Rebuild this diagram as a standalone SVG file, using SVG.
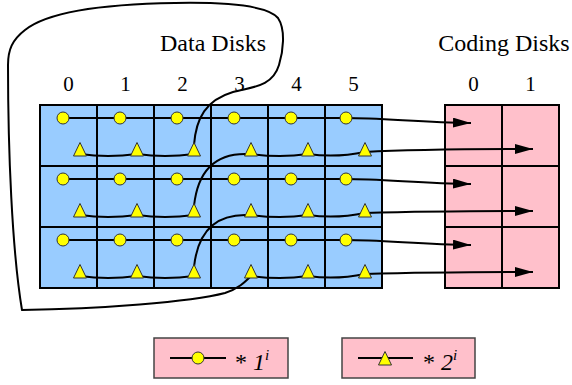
<svg xmlns="http://www.w3.org/2000/svg" width="572" height="385" viewBox="0 0 572 385">
  <defs>
    <style>
      .data { fill: #99ccff; stroke: #000; stroke-width: 2; }
      .code { fill: #ffc0cb; stroke: #000; stroke-width: 2; }
      .legend-box { fill: #ffc0cb; stroke: #444; stroke-width: 1.5; }
      .title { font-family: "Liberation Serif", "Times New Roman", serif; font-size: 24px; fill: #000; text-anchor: middle; }
      .idx { font-family: "Liberation Serif", "Times New Roman", serif; font-size: 21px; fill: #000; text-anchor: middle; }
      .leg { font-family: "Liberation Serif", "Times New Roman", serif; font-size: 24px; fill: #000; }
      .wire { fill: none; stroke: #000; stroke-width: 2; stroke-linecap: round; stroke-linejoin: round; }
      .arrow { fill: none; stroke: #000; stroke-width: 2; marker-end: url(#head); }
      .dot { fill: #ffff00; stroke: #333; stroke-width: 1; }
      .tri { fill: #ffff00; stroke: #333; stroke-width: 1; stroke-linejoin: miter; }
    </style>
    <marker id="head" markerUnits="userSpaceOnUse" markerWidth="18" markerHeight="10" refX="18" refY="5" orient="auto">
      <path d="M0,0 L18,5 L0,10 Z" fill="#000"/>
    </marker>
    <circle id="xo" r="6" class="dot"/>
    <path id="tr" d="M0,-6.5 L6.5,7 L-6.5,7 Z" class="tri"/>
  </defs>

  <!-- headings -->
  <text class="title" x="213" y="51">Data Disks</text>
  <text class="title" x="504" y="51">Coding Disks</text>
  <g id="data-labels">
    <text class="idx" x="68.5" y="91">0</text>
    <text class="idx" x="125.5" y="91">1</text>
    <text class="idx" x="182.5" y="91">2</text>
    <text class="idx" x="239.5" y="91">3</text>
    <text class="idx" x="296.5" y="91">4</text>
    <text class="idx" x="353.5" y="91">5</text>
  </g>
  <g id="coding-labels">
    <text class="idx" x="473.5" y="91">0</text>
    <text class="idx" x="530.5" y="91">1</text>
  </g>

  <!-- data disks: 6 columns x 3 rows -->
  <g id="data-disks">
    <rect class="data" x="40" y="105" width="342" height="183"/>
    <path d="M97,105V288M154,105V288M211,105V288M268,105V288M325,105V288M40,166H382M40,227H382" fill="none" stroke="#000" stroke-width="2"/>
  </g>

  <!-- coding disks: 2 columns x 3 rows -->
  <g id="coding-disks">
    <rect class="code" x="445" y="105" width="114" height="183"/>
    <path d="M502,105V288M445,166H559M445,227H559" fill="none" stroke="#000" stroke-width="2"/>
  </g>

  <!-- connectors -->
  <g id="connectors">
    <!-- row parity chains (circles) into coding disk 0 -->
    <path class="arrow" d="M63,118 L346,118 C380,118 420,122 471,123"/>
    <path class="arrow" d="M63,179 L346,179 C380,179 420,183 471,184"/>
    <path class="arrow" d="M63,240 L346,240 C380,240 420,244 471,245"/>

    <!-- diagonal chains (triangles) into coding disk 1 -->
    <!-- row 1 left half -> row 0 right half -->
    <path class="arrow" d="M80,215 Q108,219 137,215 Q165,219 194,215 L194,206 C197,178 210,154 245,154 L251,154 Q280,158 308,154 Q336,158 365,152 C400,150 480,149 533,149"/>
    <!-- row 2 left half -> row 1 right half -->
    <path class="arrow" d="M80,276 Q108,280 137,276 Q165,280 194,276 L194,267 C197,239 210,215 245,215 L251,215 Q280,219 308,215 Q336,219 365,213 C400,212 480,211 533,211"/>
    <!-- row 0 left half wraps round to row 2 right half -->
    <path class="wire" d="M80,154 Q108,158 137,154 Q165,158 194,154 L194,145 C196,118 206,100 233,92 C250,87 272,88 279,65 C283,52 286,30 278,18 C268,6 230,2 175,3 C110,4 50,10 25,30 C12,40 8,50 8,65 C8,150 12,250 22,310 C100,309 190,302 225,293 C238,289 245,282 251,276"/>
    <path class="arrow" d="M251,276 Q280,280 308,276 Q336,280 365,274 C400,273 480,272 533,272"/>
  </g>

  <!-- chain symbols -->
  <g id="symbols">
    <use href="#xo" x="63" y="118"/><use href="#xo" x="120" y="118"/><use href="#xo" x="177" y="118"/>
    <use href="#xo" x="234" y="118"/><use href="#xo" x="291" y="118"/><use href="#xo" x="346" y="118"/>
    <use href="#xo" x="63" y="179"/><use href="#xo" x="120" y="179"/><use href="#xo" x="177" y="179"/>
    <use href="#xo" x="234" y="179"/><use href="#xo" x="291" y="179"/><use href="#xo" x="346" y="179"/>
    <use href="#xo" x="63" y="240"/><use href="#xo" x="120" y="240"/><use href="#xo" x="177" y="240"/>
    <use href="#xo" x="234" y="240"/><use href="#xo" x="291" y="240"/><use href="#xo" x="346" y="240"/>

    <use href="#tr" x="80" y="149"/><use href="#tr" x="137" y="149"/><use href="#tr" x="194" y="149"/>
    <use href="#tr" x="251" y="149"/><use href="#tr" x="308" y="149"/><use href="#tr" x="365" y="149"/>
    <use href="#tr" x="80" y="210"/><use href="#tr" x="137" y="210"/><use href="#tr" x="194" y="210"/>
    <use href="#tr" x="251" y="210"/><use href="#tr" x="308" y="210"/><use href="#tr" x="365" y="210"/>
    <use href="#tr" x="80" y="271"/><use href="#tr" x="137" y="271"/><use href="#tr" x="194" y="271"/>
    <use href="#tr" x="251" y="271"/><use href="#tr" x="308" y="271"/><use href="#tr" x="365" y="271"/>
  </g>

  <!-- legend -->
  <g id="legend-mul1">
    <rect class="legend-box" x="154" y="338" width="134" height="40"/>
    <line x1="170" y1="358" x2="226" y2="358" stroke="#000" stroke-width="2"/>
    <use href="#xo" x="198" y="358"/>
    <text class="leg" x="235" y="370">* <tspan font-style="italic">1</tspan><tspan font-style="italic" font-size="15" dy="-10">i</tspan></text>
  </g>
  <g id="legend-mul2">
    <rect class="legend-box" x="342" y="338" width="133" height="40"/>
    <line x1="358" y1="358" x2="413" y2="358" stroke="#000" stroke-width="2"/>
    <use href="#tr" x="385" y="358"/>
    <text class="leg" x="423" y="370">* <tspan font-style="italic">2</tspan><tspan font-style="italic" font-size="15" dy="-10">i</tspan></text>
  </g>
</svg>
